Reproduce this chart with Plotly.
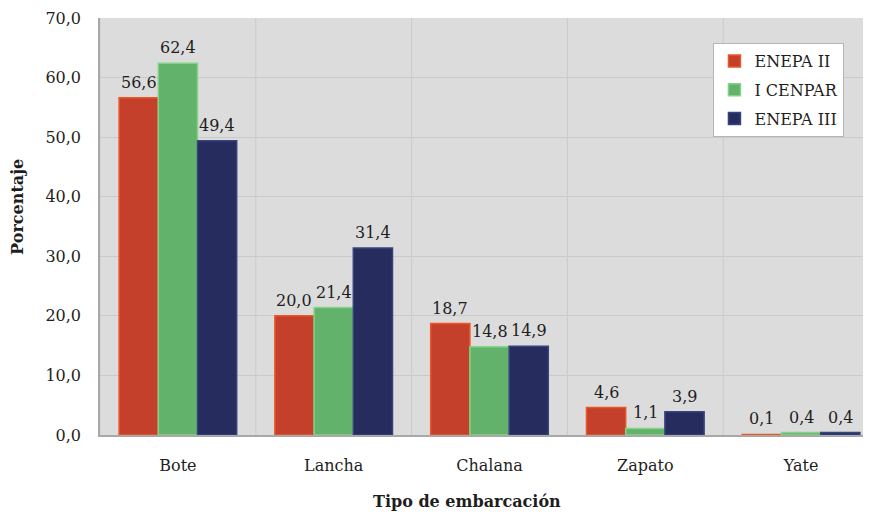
import plotly.graph_objects as go

# data
categorias = ['Bote', 'Lancha', 'Chalana', 'Zapato', 'Yate']
enepa_ii = [56.6, 20.0, 18.7, 4.6, 0.1]
i_cenpar = [62.4, 21.4, 14.8, 1.1, 0.4]
enepa_iii = [49.4, 31.4, 14.9, 3.9, 0.4]

SERIES = [
    ('ENEPA II', enepa_ii, '#c4402a', '#ea5628'),
    ('I CENPAR', i_cenpar, '#62b26c', '#84d487'),
    ('ENEPA III', enepa_iii, '#262c5e', '#36457e'),
]

FONT = 'DejaVu Serif'
TXT = '#1e1e1e'
BARGAP = 0.245
PX_PER_CAT = 155.8  # horizontal pixels per category

fig = go.Figure()
for idx, (name, vals, fill, edge) in enumerate(SERIES):
    fig.add_trace(go.Bar(
        x=categorias,
        y=vals,
        name=name,
        legendgroup=str(idx),
        marker=dict(color=fill, line=dict(color=edge, width=1.5)),
    ))
    # value labels, a little higher above the bars than plotly's own text
    bar_px = PX_PER_CAT * (1 - BARGAP) / len(SERIES)
    for cat, v in zip(categorias, vals):
        fig.add_annotation(
            x=cat, y=v, xref='x', yref='y',
            text=f'{v:.1f}'.replace('.', ','),
            showarrow=False, yanchor='bottom', xanchor='center',
            xshift=(idx - 1) * bar_px, yshift=4,
            font=dict(family=FONT, size=16, color=TXT),
        )

# page body has an 8px margin, so the figure is smaller and shifted
fig.update_layout(
    width=855,
    height=503,
    margin=dict(l=92, r=0, t=10, b=76, autoexpand=False),
    paper_bgcolor='white',
    plot_bgcolor='#dddcdc',
    barmode='group',
    bargap=BARGAP,
    bargroupgap=0,
    separators=',.',
    font=dict(family=FONT, size=16, color=TXT),
    legend=dict(
        x=0.804, y=0.94, xanchor='left', yanchor='top',
        bgcolor='white', bordercolor='#b5b5b5', borderwidth=1,
        font=dict(family=FONT, size=16, color=TXT),
        tracegroupgap=5, itemwidth=30,
    ),
    showlegend=True,
)

fig.update_xaxes(
    range=[-0.5, -0.5 + 763 / PX_PER_CAT],
    automargin=False,
    showgrid=False,
    showline=True, linecolor='#a8a8a8', linewidth=1.5,
    ticks='', ticklabelstandoff=15,
    tickfont=dict(family=FONT, size=16, color=TXT),
)
# vertical grid lines between categories
for i in range(5):
    fig.add_vline(x=i - 0.5, line=dict(color='#cacaca', width=1), layer='below')

fig.update_yaxes(
    range=[0, 70],
    dtick=10,
    tickformat='.1f',
    automargin=False,
    showgrid=True, gridcolor='#cacaca', gridwidth=1,
    showline=True, linecolor='#a8a8a8', linewidth=1.5, mirror=True,
    zeroline=False,
    ticks='', ticklabelstandoff=14,
    tickfont=dict(family=FONT, size=16, color=TXT),
)

# axis titles
fig.add_annotation(text='<b>Porcentaje</b>', xref='paper', yref='paper',
                   x=-0.1075, y=0.547, xanchor='center', yanchor='middle',
                   textangle=-90, showarrow=False,
                   font=dict(family=FONT, size=16, color=TXT))
fig.add_annotation(text='<b>Tipo de embarcación</b>', xref='paper', yref='paper',
                   x=0.481, y=-0.16, xanchor='center', yanchor='middle',
                   showarrow=False,
                   font=dict(family=FONT, size=16, color=TXT))

fig.write_html('out.html')
